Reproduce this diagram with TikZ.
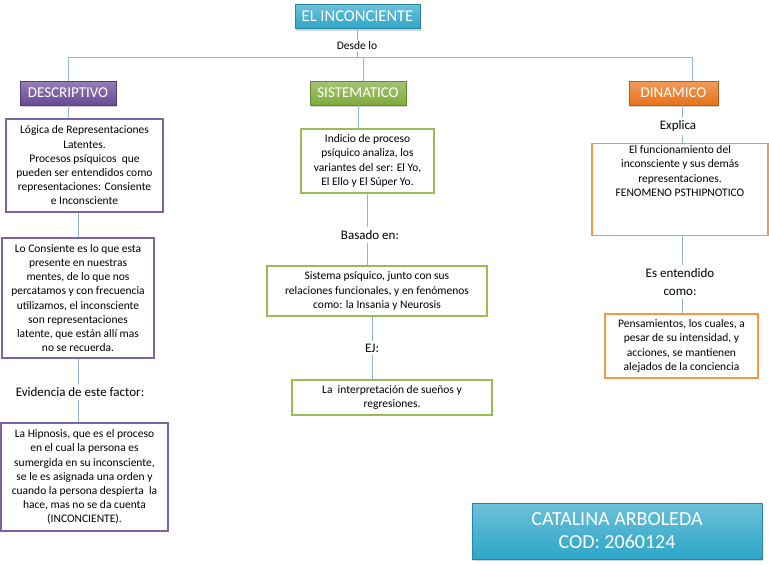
\documentclass[tikz,border=0pt]{standalone}
\usepackage{fontspec}
\setmainfont{Carlito}
\usepackage{tikz}
\usetikzlibrary{
  shadows,
  positioning,
  calc
}
\definecolor{linkblue}{RGB}{149,179,215}
\definecolor{purpleline}{RGB}{128,100,162}
\definecolor{greenline}{RGB}{155,187,89}
\definecolor{orangeline}{RGB}{247,150,70}
\definecolor{teal}{RGB}{45,166,200}
\definecolor{purplehd}{RGB}{104,72,150}
\definecolor{greenhd}{RGB}{127,170,58}
\definecolor{orangehd}{RGB}{232,114,24}
\tikzset{%
  head/.style={minimum height=24pt, text=white, inner sep=0pt,
    font=\fontsize{15}{17}\selectfont, draw=#1!80!black, thin,
    top color=#1!70!white, bottom color=#1,
    drop shadow={shadow xshift=1pt, shadow yshift=-2pt, opacity=.35}},
  box/.style={draw=#1, line width=1.4pt, fill=white, inner sep=2pt,
    align=center, font=\fontsize{11.5}{14.2}\selectfont},
  label/.style={fill=white, inner sep=3pt, align=center,
    font=\fontsize{13}{18}\selectfont},
  link/.style={draw=linkblue, line width=.8pt}
}

\begin{document}
\begin{tikzpicture}[x=1pt, y=-1pt]
  \useasboundingbox (0,0) rectangle (769,565);
  % titulo y rama principal
  \node [head=teal, minimum width=125pt, font=\fontsize{16.5}{18}\selectfont] (top) at (357.5,16.5) {EL INCONCIENTE};
  \node [label, font=\fontsize{11.5}{12}\selectfont, inner sep=2pt] (desde) at (357,46) {Desde lo};
  \coordinate (busL) at (68,57);
  \coordinate (busS) at (363,57);
  \coordinate (busR) at (692,57);
  \draw [link] (top.south -| desde) -- (desde.north);
  \draw [link] (desde.south) -- (desde.south |- busL);
  \draw [link] (busL) -- (busR);

  \node [head=purplehd, minimum width=96pt] (desc) at (68,93) {DESCRIPTIVO};
  \node [head=greenhd, minimum width=96pt] (sist) at (358,93) {SISTEMATICO};
  \node [head=orangehd, minimum width=89pt] (dina) at (673.5,93) {DINAMICO};
  \draw [link] (busL) -- (desc.north);
  \draw [link] (busS) -- (busS |- sist.north);
  \draw [link] (busR) -- (busR |- dina.north);

  % descriptivo
  \node [box=purpleline, minimum width=157pt, minimum height=93pt] (d1) at (84.5,165.5)
    {L\'ogica de Representaciones\\Latentes.\\Procesos ps\'iquicos\ \ que\\pueden ser entendidos como\\representaciones: Consiente\\e Inconsciente};
  \node [box=purpleline, minimum width=152pt, minimum height=120pt] (d2) at (78,298)
    {Lo Consiente es lo que esta\\presente en nuestras\\mentes, de lo que nos\\percatamos y con frecuencia\\utilizamos, el inconsciente\\son representaciones\\latente, que est\'an all\'i mas\\no se recuerda.};
  \node [label] (evid) at (80,392) {Evidencia de este factor:};
  \node [box=purpleline, minimum width=167pt, minimum height=108pt] (d3) at (84.5,477)
    {La Hipnosis, que es el proceso\\en el cual la persona es\\sumergida en su inconsciente,\\se le es asignada una orden y\\cuando la persona despierta\ \ la\\hace, mas no se da cuenta\\(INCONCIENTE).};
  \draw [link] (desc.south) -- (desc.south |- d1.north);
  \draw [link] (d2.north |- d1.south) -- (d2.north);
  \draw [link] (d2.south) -- (d2.south |- evid.north);
  \draw [link] (d2.south |- evid.south) -- (d2.south |- d3.north);

  % sistematico
  \node [box=greenline, minimum width=133pt, minimum height=64pt] (s1) at (367.5,161)
    {Indicio de proceso\\ps\'iquico analiza, los\\variantes del ser: El Yo,\\El Ello y El S\'uper Yo.};
  \node [label] (basado) at (370,235) {Basado en:};
  \node [box=greenline, minimum width=220pt, minimum height=50pt] (s2) at (377,291)
    {Sistema ps\'iquico, junto con sus\\relaciones funcionales, y en fen\'omenos\\como: la Insania y Neurosis};
  \node [label] (ej) at (372,348) {EJ:};
  \node [box=greenline, minimum width=200pt, minimum height=35pt] (s3) at (392,397.5)
    {La\ \ interpretaci\'on de sue\~nos y\\regresiones.};
  \draw [link] (sist.south) -- (sist.south |- s1.north);
  \draw [link] (s1.south) -- (s1.south |- basado.north);
  \draw [link] (s1.south |- basado.south) -- (s1.south |- s2.north);
  \draw [link] (ej.north |- s2.south) -- (ej.north);
  \draw [link] (ej.south) -- (ej.south |- s3.north);

  % dinamico
  \coordinate (dx) at (682,0);
  \node [label] (explica) at (678,126) {Explica};
  \node [box=orangeline, minimum width=176pt, anchor=north, text depth=37pt] (n1) at (680,143)
    {El funcionamiento del\\inconsciente y sus dem\'as\\representaciones.\\FENOMENO PSTHIPNOTICO};
  \node [label] (esent) at (680,282) {Es entendido\\como:};
  \node [box=orangeline, minimum width=153pt, minimum height=64pt] (n2) at (681.5,346)
    {Pensamientos, los cuales, a\\pesar de su intensidad, y\\acciones, se mantienen\\alejados de la conciencia};
  \draw [link] (dina.south -| dx) -- (explica.north -| dx);
  \draw [link] (explica.south -| dx) -- (n1.north -| dx);
  \draw [link] (n1.south -| dx) -- (esent.north -| dx);
  \draw [link] (esent.south -| dx) -- (n2.north -| dx);

  % autor
  \node [head=teal, minimum width=290pt, minimum height=56pt, align=center,
    font=\fontsize{20}{23}\selectfont] (autor) at (617,531) {CATALINA ARBOLEDA\\COD: 2060124};
\end{tikzpicture}
\end{document}
